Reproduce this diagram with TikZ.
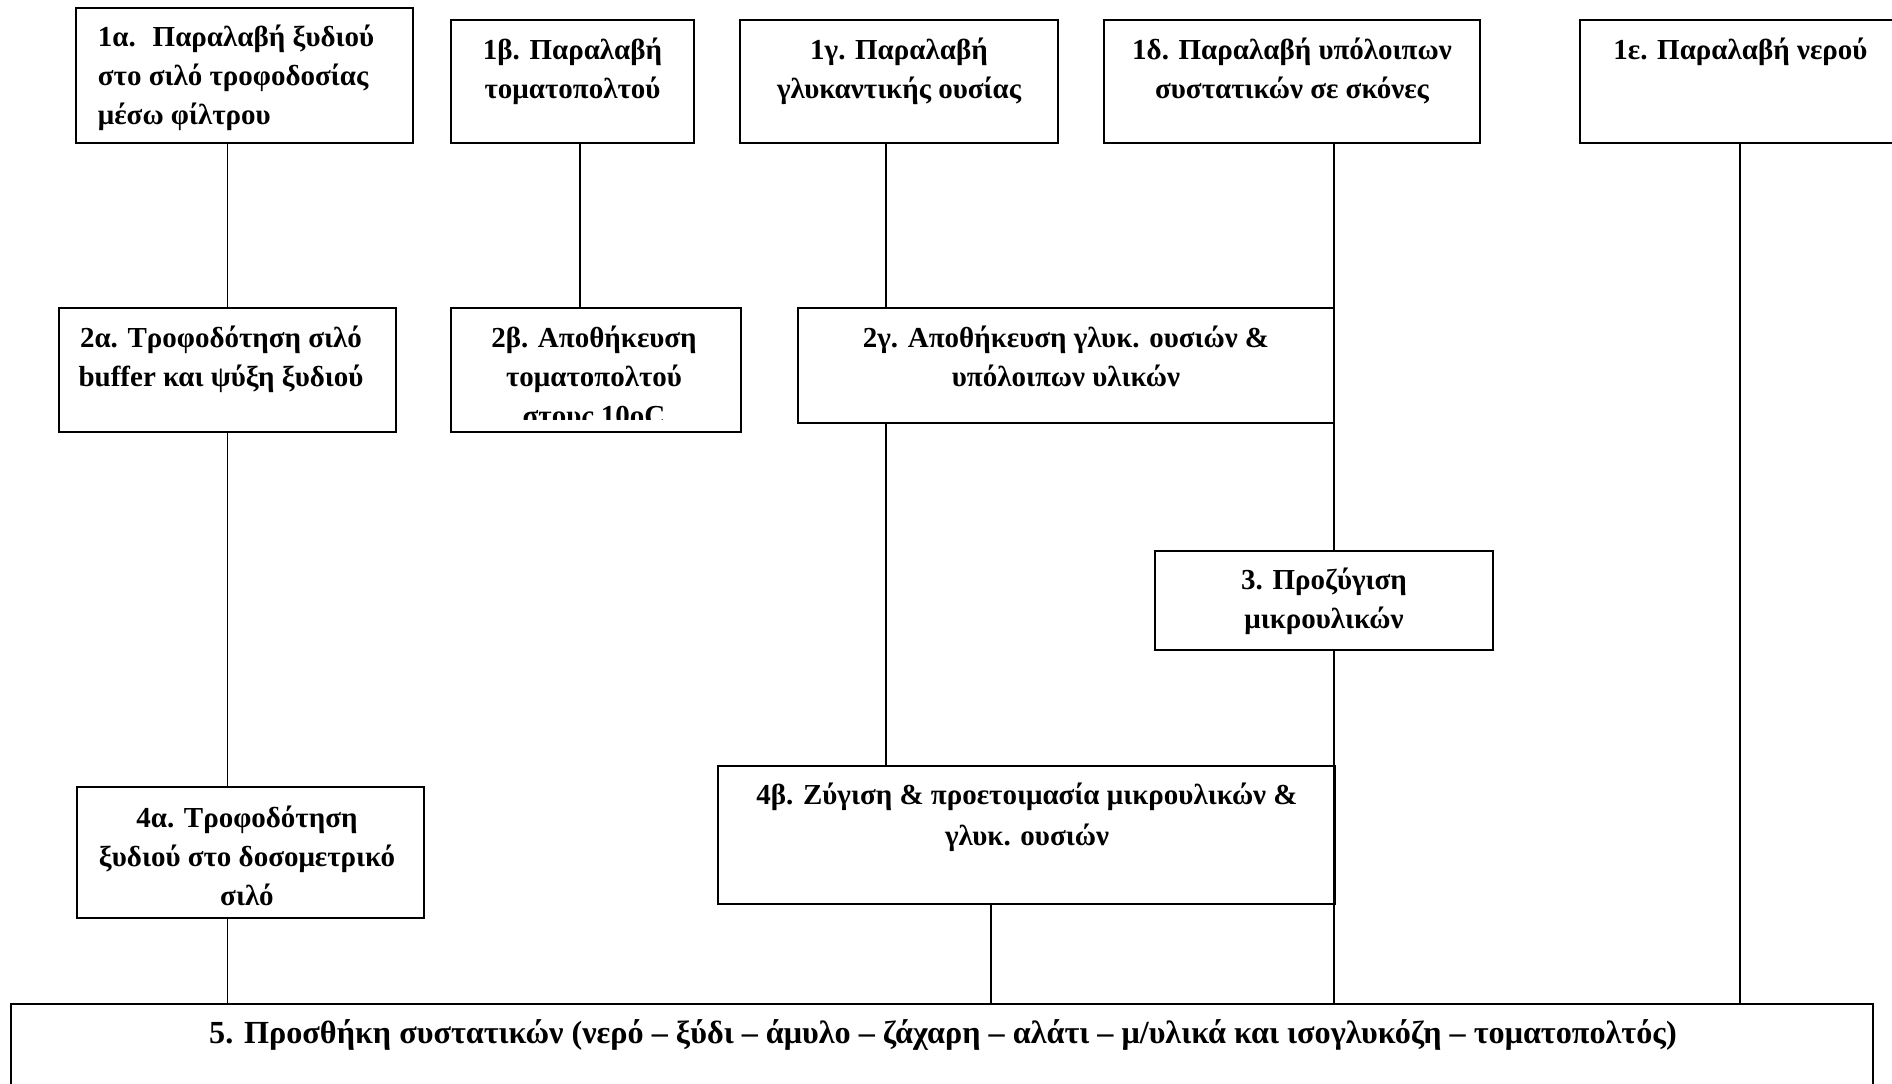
\documentclass[tikz,border=0pt]{standalone}
\usepackage{fontspec}
\setmainfont{Liberation Serif}
\usetikzlibrary{calc}
\newcommand\fstrut{\rule{0pt}{11.5pt}}
\newcommand\bstrut{\rule{0pt}{13pt}}
\begin{document}
\begin{tikzpicture}[x=0.5pt,y=-0.5pt,
  box/.style={draw, line width=1pt, fill=white, rectangle, inner sep=0pt},
  conn/.style={line width=0.75pt},
  txt/.style={font=\fontsize{14.5}{19.5}\selectfont\bfseries, align=center, inner sep=0pt, anchor=north},
  txtl/.style={txt, align=left, anchor=north west},
  txtbig/.style={txt, font=\fontsize{16.1}{20}\selectfont\bfseries}]
\useasboundingbox (0,0) rectangle (1892,1083);
\clip (0,0) rectangle (1892,1083);
\fill[white] (0,0) rectangle (1892,1083);

% boxes
\node[box, minimum width=168.5pt, minimum height=67.5pt] (n1a) at (244.5,75.5) {};
\node[box, minimum width=121.5pt, minimum height=61.5pt] (n1b) at (572.5,81.5) {};
\node[box, minimum width=159pt,   minimum height=61.5pt] (n1c) at (899,81.5) {};
\node[box, minimum width=188pt,   minimum height=61.5pt] (n1d) at (1292,81.5) {};
\node[box, minimum width=160pt,   minimum height=61.5pt] (n1e) at (1740,81.5) {};
\node[box, minimum width=168.5pt, minimum height=62pt]   (n2a) at (227.5,370) {};
\node[box, minimum width=145pt,   minimum height=62pt]   (n2b) at (596,370) {};
\node[box, minimum width=268pt,   minimum height=57.5pt] (n2c) at (1066,365.5) {};
\node[box, minimum width=169pt,   minimum height=49.5pt] (n3)  at (1324,600.5) {};
\node[box, minimum width=173.5pt, minimum height=65.5pt] (n4a) at (250.5,852.5) {};
\node[box, minimum width=308.5pt, minimum height=69pt]   (n4b) at (1026.5,835) {};
\node[box, minimum width=931pt,   minimum height=56pt]   (n5)  at (942,1060) {};

% texts
\node[txtl] (t1a) at (97.5,23.5) {\fstrut 1α.~ Παραλαβή ξυδιού\\στο σιλό τροφοδοσίας\\μέσω φίλτρου};
\node[txt] (t1b) at (572.5,36) {\fstrut 1β. Παραλαβή\\τοματοπολτού};
\node[txt] (t1c) at (899,36) {\fstrut 1γ. Παραλαβή\\γλυκαντικής ουσίας};
\node[txt] (t1d) at (1292,36) {\fstrut 1δ. Παραλαβή υπόλοιπων\\συστατικών σε σκόνες};
\node[txtl] (t1e) at (1613,36) {\fstrut 1ε. Παραλαβή νερού};
\node[txt] (t2a) at (221,324) {\fstrut 2α. Τροφοδότηση σιλό\\buffer και ψύξη ξυδιού};
\begin{scope}
  \clip (453,310) rectangle (739,419);
  \node[txt] (t2b) at (594,324) {\fstrut 2β. Αποθήκευση\\τοματοπολτού\\στους 10oC};
\end{scope}
\node[txt] (t2c) at (1066,324) {\fstrut 2γ. Αποθήκευση γλυκ. ουσιών \&\\υπόλοιπων υλικών};
\node[txt] (t3) at (1324,566) {\fstrut 3. Προζύγιση\\μικρουλικών};
\node[txt] (t4a) at (247,804) {\fstrut 4α. Τροφοδότηση\\ξυδιού στο δοσομετρικό\\σιλό};
\node[txt, font=\fontsize{14.5}{20.5}\selectfont\bfseries] (t4b) at (1027,781) {\fstrut 4β. Ζύγιση \& προετοιμασία μικρουλικών \&\\γλυκ. ουσιών};
\node[txtbig] (t5) at (943,1017) {\bstrut 5. Προσθήκη συστατικών (νερό – ξύδι – άμυλο – ζάχαρη – αλάτι – μ/υλικά και ισογλυκόζη – τοματοπολτός)};

% connectors
\draw[conn] (n2a.north |- n1a.south) -- (n2a.north);
\draw[conn] (n2a.south) -- (n4a.north -| n2a.south);
\draw[conn] (n4a.south -| n2a.south) -- (n5.north -| n2a.south);
\draw[conn] ([xshift=3.75pt]n1b.south) coordinate (c1b) -- (c1b |- n2b.north);
\draw[conn] ([xshift=-6.5pt]n1c.south) coordinate (c1c) -- (c1c |- n2c.north);
\draw[conn] (c1c |- n2c.south) -- (c1c |- n4b.north);
\draw[conn] ([xshift=21pt]n1d.south) coordinate (c1d) -- (c1d |- n3.north);
\draw[conn] (c1d |- n3.south) -- (c1d |- n5.north);
\draw[conn] ([xshift=-17.75pt]n4b.south) coordinate (c4b) -- (c4b |- n5.north);
\draw[conn] (n1e.south) -- (n1e.south |- n5.north);
\end{tikzpicture}
\end{document}
